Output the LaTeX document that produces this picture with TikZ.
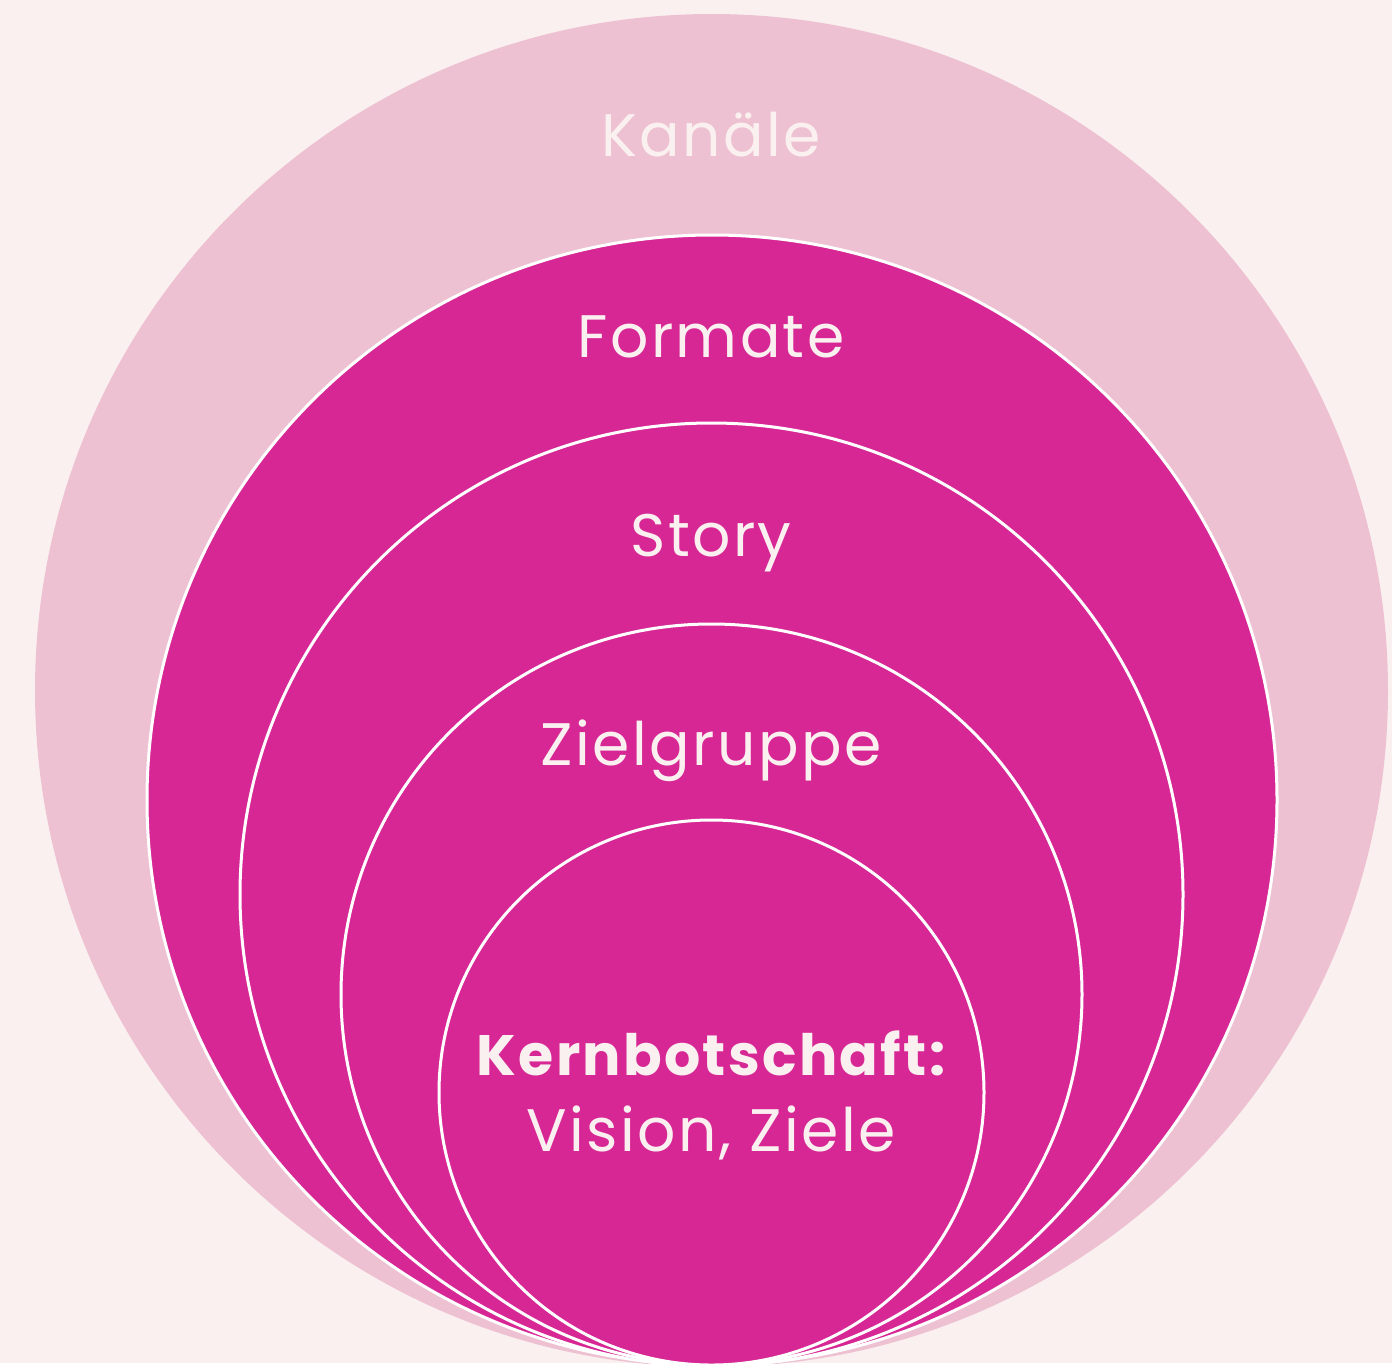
\documentclass[tikz,border=0pt]{standalone}
\usepackage{fontspec}
\setmainfont{Poppins}[LetterSpace=4]
\definecolor{bgc}{HTML}{FBF0F0}
\definecolor{outerc}{HTML}{EDC1D1}
\definecolor{magc}{HTML}{D72795}
\definecolor{txtc}{HTML}{FBF0F0}
\begin{document}
\begin{tikzpicture}[x=1pt,y=-1pt,
  ring/.style={fill=magc,draw=white,line width=3pt},
  lbl/.style={text=txtc,anchor=base,inner sep=0pt,font=\fontsize{60}{66}\selectfont},
]
\useasboundingbox (0,0) rectangle (1392,1363);
\fill[bgc] (0,0) rectangle (1392,1363);
\begin{scope}
\clip (0,0) rectangle (1392,1363);
\fill[outerc] (711.5,690.5) circle[radius=676.5pt];
\draw[ring] (712,800) circle[radius=565pt];
\draw[ring] (711.5,894.5) circle[radius=471.5pt];
\draw[ring] (711.5,994.5) circle[radius=370.5pt];
\draw[ring] (711.5,1092.5) circle[radius=272.5pt];
\end{scope}
\node[lbl] (kan) at (711,156) {Kanäle};
\node[lbl] (form) at (711,357) {Formate};
\node[lbl] (story) at (711,556) {Story};
\node[lbl] (ziel) at (711,765) {Zielgruppe};
\node[lbl,font=\fontsize{57}{63}\selectfont\bfseries] (kern) at (711,1075) {Kernbotschaft:};
\node[lbl] (vis) at (711,1151) {Vision, Ziele};
\end{tikzpicture}
\end{document}
